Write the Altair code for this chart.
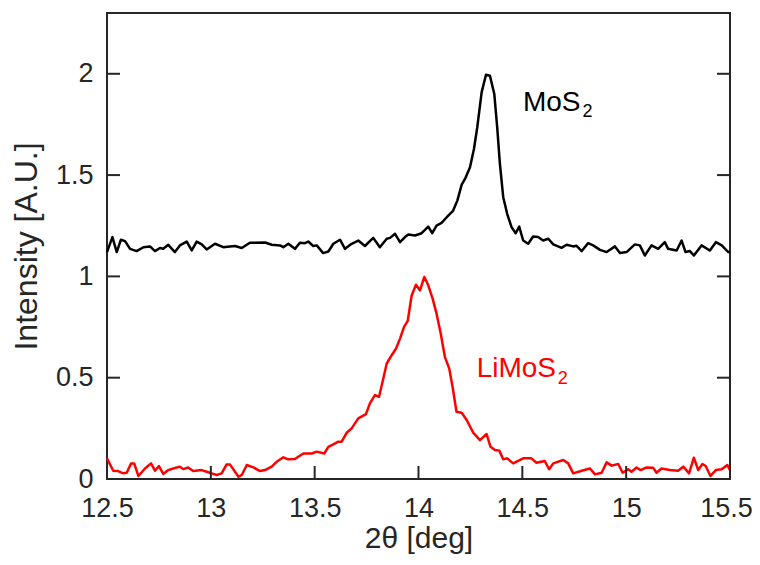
import altair as alt
import pandas as pd

# ---- data ----
mos2_x = [12.500, 12.526, 12.547, 12.567, 12.587, 12.611, 12.643, 12.675, 12.707, 12.731,
          12.755, 12.771, 12.795, 12.827, 12.851, 12.884, 12.908, 12.932, 12.956, 12.980,
          13.020, 13.060, 13.092, 13.116, 13.149, 13.188, 13.261, 13.293, 13.333, 13.349,
          13.373, 13.405, 13.429, 13.453, 13.469, 13.493, 13.510, 13.541, 13.566, 13.590,
          13.622, 13.646, 13.678, 13.710, 13.742, 13.782, 13.814, 13.847, 13.863, 13.887,
          13.911, 13.935, 13.951, 13.983, 14.015, 14.047, 14.066, 14.087, 14.111, 14.136,
          14.167, 14.187, 14.208, 14.224, 14.248, 14.267, 14.283, 14.304, 14.325, 14.344,
          14.365, 14.379, 14.392, 14.408, 14.427, 14.448, 14.468, 14.485, 14.504, 14.528,
          14.552, 14.576, 14.600, 14.625, 14.649, 14.689, 14.713, 14.745, 14.761, 14.786,
          14.817, 14.841, 14.874, 14.906, 14.946, 14.970, 15.002, 15.042, 15.066, 15.090,
          15.122, 15.154, 15.186, 15.202, 15.243, 15.267, 15.286, 15.307, 15.326, 15.363,
          15.403, 15.432, 15.460, 15.492, 15.500]
mos2_y = [1.120, 1.194, 1.120, 1.181, 1.174, 1.136, 1.125, 1.144, 1.148, 1.125,
          1.140, 1.136, 1.156, 1.120, 1.153, 1.172, 1.128, 1.172, 1.158, 1.133,
          1.161, 1.144, 1.148, 1.150, 1.140, 1.166, 1.167, 1.156, 1.153, 1.144,
          1.161, 1.136, 1.166, 1.164, 1.172, 1.150, 1.153, 1.115, 1.123, 1.161,
          1.181, 1.136, 1.161, 1.177, 1.150, 1.190, 1.144, 1.186, 1.190, 1.210,
          1.169, 1.194, 1.207, 1.202, 1.213, 1.246, 1.213, 1.251, 1.264, 1.292,
          1.325, 1.374, 1.453, 1.481, 1.539, 1.629, 1.736, 1.908, 1.995, 1.990,
          1.900, 1.736, 1.555, 1.391, 1.309, 1.243, 1.213, 1.246, 1.177, 1.161,
          1.197, 1.194, 1.177, 1.186, 1.158, 1.141, 1.156, 1.148, 1.151, 1.125,
          1.164, 1.153, 1.131, 1.120, 1.148, 1.115, 1.120, 1.158, 1.153, 1.103,
          1.153, 1.136, 1.169, 1.136, 1.128, 1.177, 1.120, 1.125, 1.103, 1.153,
          1.128, 1.169, 1.153, 1.120, 1.120]

limos2_x = [12.500, 12.530, 12.554, 12.578, 12.595, 12.616, 12.631, 12.651, 12.683, 12.712,
            12.731, 12.750, 12.771, 12.795, 12.819, 12.851, 12.867, 12.891, 12.915, 12.956,
            12.980, 13.004, 13.028, 13.052, 13.076, 13.092, 13.133, 13.149, 13.173, 13.205,
            13.237, 13.261, 13.293, 13.317, 13.349, 13.373, 13.405, 13.445, 13.486, 13.510,
            13.546, 13.566, 13.590, 13.614, 13.630, 13.654, 13.678, 13.710, 13.747, 13.766,
            13.790, 13.810, 13.823, 13.847, 13.871, 13.892, 13.911, 13.930, 13.948, 13.967,
            13.988, 14.007, 14.028, 14.047, 14.068, 14.087, 14.107, 14.127, 14.148, 14.164,
            14.183, 14.208, 14.232, 14.264, 14.296, 14.328, 14.347, 14.368, 14.389, 14.408,
            14.427, 14.456, 14.504, 14.544, 14.568, 14.608, 14.629, 14.649, 14.697, 14.721,
            14.745, 14.786, 14.826, 14.850, 14.882, 14.906, 14.930, 14.962, 14.983, 15.010,
            15.026, 15.050, 15.070, 15.098, 15.130, 15.146, 15.170, 15.210, 15.250, 15.275,
            15.303, 15.326, 15.347, 15.367, 15.383, 15.406, 15.432, 15.460, 15.487, 15.500]
limos2_y = [0.102, 0.041, 0.039, 0.028, 0.031, 0.077, 0.077, 0.015, 0.052, 0.077,
            0.041, 0.064, 0.025, 0.044, 0.052, 0.061, 0.049, 0.057, 0.039, 0.044,
            0.036, 0.028, 0.020, 0.028, 0.072, 0.072, 0.011, 0.020, 0.069, 0.057,
            0.039, 0.044, 0.061, 0.085, 0.107, 0.097, 0.099, 0.126, 0.126, 0.135,
            0.126, 0.159, 0.171, 0.184, 0.184, 0.228, 0.250, 0.299, 0.320, 0.373,
            0.414, 0.406, 0.463, 0.570, 0.611, 0.644, 0.693, 0.750, 0.780, 0.906,
            0.959, 0.931, 0.997, 0.956, 0.890, 0.816, 0.718, 0.603, 0.545, 0.455,
            0.332, 0.327, 0.291, 0.228, 0.192, 0.222, 0.159, 0.143, 0.140, 0.097,
            0.102, 0.077, 0.102, 0.102, 0.080, 0.089, 0.048, 0.077, 0.094, 0.077,
            0.028, 0.041, 0.052, 0.023, 0.031, 0.082, 0.066, 0.074, 0.031, 0.048,
            0.036, 0.057, 0.044, 0.057, 0.056, 0.031, 0.052, 0.044, 0.041, 0.061,
            0.028, 0.105, 0.044, 0.074, 0.064, 0.015, 0.044, 0.048, 0.069, 0.044]

series_names = ["MoS2", "LiMoS2"]
series_colors = ["#000000", "#ff0000"]

x_ticks = [12.5, 13, 13.5, 14, 14.5, 15, 15.5]
y_ticks = [0, 0.5, 1, 1.5, 2]

label_main = ["MoS", "LiMoS"]
label_sub = ["2", "2"]
label_x = [14.503, 14.280]
label_y = [1.818, 0.501]
label_sub_x = [14.790, 14.671]
label_sub_y = [1.785, 0.468]

# ---- layout ----
W, H = 623, 466
FONT = "Liberation Sans"
AX = "#262626"
TICK = 13

df = pd.concat([
    pd.DataFrame({"x": mos2_x, "y": mos2_y, "s": series_names[0]}),
    pd.DataFrame({"x": limos2_x, "y": limos2_y, "s": series_names[1]}),
])

xscale = alt.Scale(domain=[12.5, 15.5], nice=False, zero=False)
yscale = alt.Scale(domain=[0, 2.3], nice=False)
xaxis = alt.Axis(values=x_ticks, format="~g", title="2θ [deg]", grid=False,
                 domain=False, ticks=False, tickSize=0, labelPadding=16,
                 labelFontSize=27, titleFontSize=30, titlePadding=2,
                 labelOffset={"condition": {"test": "datum.value == 15.5", "value": -4}, "value": 0},
                 labelColor=AX, titleColor=AX, labelFont=FONT, titleFont=FONT,
                 titleFontWeight="normal", labelFlush=False)
yaxis = alt.Axis(values=y_ticks, format="~g", title="Intensity [A.U.]", grid=False,
                 domain=False, ticks=False, tickSize=0, labelPadding=14,
                 labelFontSize=27, titleFontSize=32, titlePadding=12,
                 labelColor=AX, titleColor=AX, labelFont=FONT, titleFont=FONT,
                 titleFontWeight="normal", labelFlush=False)

X = alt.X("x:Q", scale=xscale, axis=xaxis)
Y = alt.Y("y:Q", scale=yscale, axis=yaxis)

color_enc = alt.Color("s:N", scale=alt.Scale(domain=series_names, range=series_colors), legend=None)

lines = alt.Chart(df).mark_line(strokeWidth=2.5, strokeJoin="round").encode(
    x=X, y=Y, color=color_enc, detail="s:N",
)

xt = pd.DataFrame({"x": x_ticks})
yt = pd.DataFrame({"y": y_ticks})
tick_style = dict(color=AX, strokeWidth=2)
bottom_ticks = alt.Chart(xt).mark_rule(**tick_style).encode(
    x=X, y=alt.value(H), y2=alt.value(H - TICK))
left_ticks = alt.Chart(yt).mark_rule(**tick_style).encode(
    y=Y, x=alt.value(0), x2=alt.value(TICK))
right_ticks = alt.Chart(yt).mark_rule(**tick_style).encode(
    y=Y, x=alt.value(W), x2=alt.value(W - TICK))

lab = pd.DataFrame({"x": label_x, "y": label_y, "t": label_main, "s": series_names})
sub = pd.DataFrame({"x": label_sub_x, "y": label_sub_y, "t": label_sub, "s": series_names})
main_text = alt.Chart(lab).mark_text(font=FONT, fontSize=28, align="left",
                                      baseline="alphabetic").encode(
    x=X, y=Y, text="t:N", color=color_enc)
sub_text = alt.Chart(sub).mark_text(font=FONT, fontSize=18, align="left",
                                     baseline="alphabetic").encode(
    x=X, y=Y, text="t:N", color=color_enc)

chart = alt.layer(lines, bottom_ticks, left_ticks, right_ticks, main_text, sub_text).properties(
    width=W, height=H,
    autosize=alt.AutoSizeParams(type="none"),
    padding={"left": 99, "top": 5, "right": 22, "bottom": 78},
    background="white",
).configure_view(stroke=AX, strokeWidth=2)

chart.save("out.html", embed_options={"renderer": "svg", "actions": False})
